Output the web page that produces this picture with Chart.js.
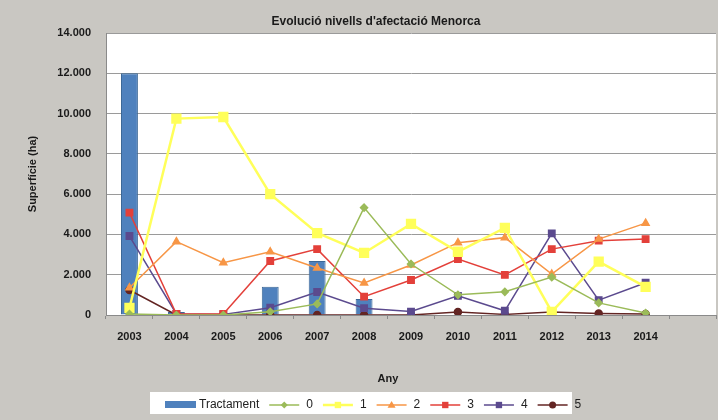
<!DOCTYPE html>
<html>
<head>
<meta charset="utf-8">
<script src="https://cdn.jsdelivr.net/npm/chart.js@4"></script>
<style>
  html, body { margin: 0; padding: 0; background: #c9c7c2; }
</style>
</head>
<body>
<canvas id="c" width="718" height="420"></canvas>
<script>
// values
const years = ["2003", "2004", "2005", "2006", "2007", "2008", "2009", "2010", "2011", "2012", "2013", "2014", ""];
const tractament = [12000, 150, 0, 1400, 2680, 800, 0, 0, 0, 0, 0, 0];
const nivell0 = [50, 0, 0, 160, 550, 5330, 2530, 1000, 1150, 1880, 600, 100];
const nivell1 = [350, 9750, 9830, 6000, 4070, 3080, 4520, 3140, 4320, 160, 2650, 1400];
const nivell2 = [1350, 3640, 2600, 3140, 2330, 1590, 2480, 3590, 3840, 2030, 3770, 4560];
const nivell3 = [5080, 50, 50, 2680, 3270, 910, 1740, 2780, 1990, 3270, 3690, 3770];
const nivell4 = [3920, 50, 30, 360, 1140, 340, 170, 950, 210, 4050, 740, 1600];
const nivell5 = [1240, 0, 0, 0, 0, 0, 0, 150, 30, 150, 80, 50];
const yTicks = [0, 2000, 4000, 6000, 8000, 10000, 12000, 14000];

const FONT = '"Liberation Sans", Arial, sans-serif';

function fmt(v) {
  return String(v).replace(/\B(?=(\d{3})+(?!\d))/g, ".");
}

function lineSet(label, data, color, style, radius, width) {
  return {
    type: "line",
    label: label,
    data: data,
    borderColor: color,
    backgroundColor: color,
    pointBackgroundColor: color,
    pointBorderColor: color,
    pointStyle: style,
    pointRadius: radius,
    borderWidth: width,
    tension: 0,
    order: 1
  };
}

function drawMarker(ctx, style, x, y, r, color) {
  ctx.save();
  ctx.fillStyle = color;
  ctx.beginPath();
  if (style === "rect") {
    const s = Math.SQRT1_2 * r;
    ctx.rect(x - s, y - s, 2 * s, 2 * s);
  } else if (style === "rectRot") {
    ctx.moveTo(x, y - r);
    ctx.lineTo(x + r, y);
    ctx.lineTo(x, y + r);
    ctx.lineTo(x - r, y);
    ctx.closePath();
  } else if (style === "triangle") {
    ctx.moveTo(x, y - r);
    ctx.lineTo(x + r, y + r * 0.7);
    ctx.lineTo(x - r, y + r * 0.7);
    ctx.closePath();
  } else {
    ctx.arc(x, y, r, 0, Math.PI * 2);
  }
  ctx.fill();
  ctx.restore();
}

const decor = {
  id: "decor",
  beforeDraw(chart) {
    const ctx = chart.ctx;
    const a = chart.chartArea;
    ctx.save();
    ctx.fillStyle = "#c9c7c2";
    ctx.fillRect(0, 0, chart.width, chart.height);
    ctx.fillStyle = "#ffffff";
    ctx.fillRect(a.left, a.top, a.right - a.left, a.bottom - a.top);
    ctx.restore();
  },
  afterDraw(chart) {
    const ctx = chart.ctx;
    const a = chart.chartArea;
    ctx.save();
    ctx.fillStyle = "#1a1a1a";
    ctx.textAlign = "center";
    ctx.textBaseline = "middle";
    // title
    ctx.font = "bold 12px " + FONT;
    ctx.fillText("Evolució nivells d'afectació Menorca", 376, 22);
    // axis titles
    ctx.font = "bold 11px " + FONT;
    ctx.fillText("Any", 388, 379);
    ctx.save();
    ctx.translate(33, (a.top + a.bottom) / 2);
    ctx.rotate(-Math.PI / 2);
    ctx.fillText("Superfície (ha)", 0, 0);
    ctx.restore();

    // legend
    ctx.fillStyle = "#ffffff";
    ctx.fillRect(150, 392, 422, 22);
    ctx.font = "12px " + FONT;
    ctx.textAlign = "left";
    const cy = 405;
    let x = 165;
    chart.data.datasets.forEach(function (ds) {
      if (ds.type === "bar") {
        ctx.fillStyle = ds.backgroundColor;
        ctx.fillRect(x, cy - 4, 31, 7);
        x += 34;
      } else {
        ctx.strokeStyle = ds.borderColor;
        ctx.lineWidth = ds.borderWidth;
        ctx.beginPath();
        ctx.moveTo(x, cy);
        ctx.lineTo(x + 30, cy);
        ctx.stroke();
        drawMarker(ctx, ds.pointStyle, x + 15, cy, Math.min(ds.pointRadius, 4.5), ds.pointBackgroundColor);
        x += 37;
      }
      ctx.fillStyle = "#222";
      ctx.fillText(ds.label, x, cy);
      x += ctx.measureText(ds.label).width + 10;
    });
    ctx.restore();
  }
};

new Chart(document.getElementById("c"), {
  data: {
    labels: years,
    datasets: [
      {
        type: "bar",
        label: "Tractament",
        data: tractament,
        backgroundColor: "#4f81bd",
        borderColor: "#3a6796",
        borderWidth: 1,
        barPercentage: 0.36,
        categoryPercentage: 1,
        order: 10
      },
      lineSet("0", nivell0, "#9bbb59", "rectRot", 3.5, 1.5),
      lineSet("1", nivell1, "#ffff5a", "rect", 5.5, 2.5),
      lineSet("2", nivell2, "#f79646", "triangle", 4, 1.5),
      lineSet("3", nivell3, "#e3403a", "rect", 4.5, 1.5),
      lineSet("4", nivell4, "#5b4a8e", "rect", 4.5, 1.5),
      lineSet("5", nivell5, "#632523", "circle", 3.5, 1.5)
    ]
  },
  options: {
    responsive: false,
    animation: false,
    layout: { autoPadding: false, padding: { top: 33, right: 2, left: 0, bottom: 0 } },
    plugins: {
      legend: { display: false },
      title: { display: false },
      tooltip: { enabled: false }
    },
    scales: {
      x: {
        offset: true,
        grid: { drawOnChartArea: false, tickLength: 4, color: "#8a8a8a", offset: true },
        border: { color: "#8a8a8a" },
        ticks: { color: "#1a1a1a", font: { family: FONT, size: 11, weight: "bold" }, padding: 11, maxRotation: 0 },
        afterFit(scale) { scale.height = 105; }
      },
      y: {
        min: 0,
        max: 14000,
        afterBuildTicks(scale) { scale.ticks = yTicks.map(function (v) { return { value: v }; }); },
        grid: { color: "#9a9a9a", drawTicks: false },
        border: { color: "#8a8a8a" },
        ticks: {
          color: "#1a1a1a",
          font: { family: FONT, size: 11, weight: "bold" },
          padding: 15,
          callback: function (value) { return fmt(value); }
        },
        afterFit(scale) { scale.width = 106; }
      }
    }
  },
  plugins: [decor]
});
</script>
</body>
</html>
